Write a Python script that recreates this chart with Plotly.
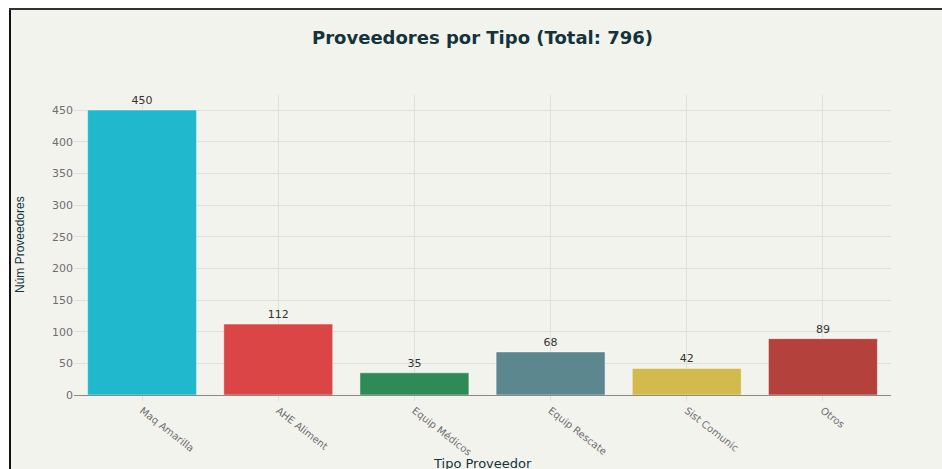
"""Bar chart: proveedores por tipo."""

import plotly.graph_objects as go

BACKGROUND_COLOR = "#F3F3EE"
TITLE_COLOR = "#13343B"
TICK_COLOR = "#6e6e6e"
GRID_COLOR = "#e0e0db"
AXIS_LINE_COLOR = "#8a8a8a"
WIDE_FONT = "DejaVu Sans, sans-serif"

tipos = ["Maq Amarilla", "AHE Aliment", "Equip Médicos", "Equip Rescate", "Sist Comunic", "Otros"]
num_proveedores = [450, 112, 35, 68, 42, 89]
bar_colors = ["#1FB8CD", "#DB4545", "#2E8B57", "#5D878F", "#D2BA4C", "#B4413C"]

total = sum(num_proveedores)

# page margin is removed below, so figure pixels equal window pixels
FIG_W, FIG_H = 942, 469
PLOT_L, PLOT_R, PLOT_T, PLOT_B = 74, 891, 95, 395

fig = go.Figure(
    go.Bar(
        x=tipos,
        y=num_proveedores,
        text=num_proveedores,
        textposition="outside",
        cliponaxis=False,
        textfont={"size": 11, "color": "#333333", "family": WIDE_FONT},
        marker={"color": bar_colors, "line": {"color": "rgba(255,255,255,0.45)", "width": 1}},
    )
)

fig.update_layout(
    width=FIG_W,
    height=FIG_H,
    paper_bgcolor=BACKGROUND_COLOR,
    plot_bgcolor=BACKGROUND_COLOR,
    font={"family": WIDE_FONT, "color": TICK_COLOR},
    title={
        "text": f"Proveedores por Tipo (Total: {total})",
        "x": 0.5,
        "xref": "paper",
        "xanchor": "center",
        "y": 1 - 38 / FIG_H,
        "yanchor": "middle",
        "font": {"size": 18, "color": TITLE_COLOR, "family": WIDE_FONT, "weight": "bold"},
    },
    margin={"l": PLOT_L, "r": FIG_W - PLOT_R, "t": PLOT_T, "b": FIG_H - PLOT_B, "autoexpand": False},
    showlegend=False,
    bargap=0.2,
)

fig.update_xaxes(
    tickangle=38,
    tickfont={"size": 10, "color": TICK_COLOR},
    showgrid=True,
    gridcolor=GRID_COLOR,
    showline=True,
    linecolor=AXIS_LINE_COLOR,
    ticks="outside",
    ticklen=5,
    tickcolor=GRID_COLOR,
    automargin=False,
)
fig.update_yaxes(
    tickfont={"size": 11, "color": TICK_COLOR},
    dtick=50,
    gridcolor=GRID_COLOR,
    zeroline=False,
    showline=False,
    automargin=False,
)


def xp(px):
    return (px - PLOT_L) / (PLOT_R - PLOT_L)


def yp(py):
    return 1 - (py - PLOT_T) / (PLOT_B - PLOT_T)


# axis titles placed as in the screenshot (x title cut by the bottom edge)
fig.add_annotation(text="Tipo Proveedor", xref="paper", yref="paper", x=0.5, y=yp(463),
                   yanchor="middle", showarrow=False,
                   font={"size": 13, "color": TITLE_COLOR, "family": WIDE_FONT})
fig.add_annotation(text="Núm Proveedores", xref="paper", yref="paper", x=xp(20), y=yp(245),
                   xanchor="center", yanchor="middle", textangle=-90, showarrow=False,
                   font={"size": 12, "color": TITLE_COLOR, "family": "Liberation Sans, Arial, sans-serif"})

# white page strips and dark frame lines at the top-left of the screenshot
fig.add_shape(type="rect", xref="paper", yref="paper", x0=xp(0), x1=xp(FIG_W), y0=yp(8), y1=yp(0),
              fillcolor="white", line_width=0, layer="above")
fig.add_shape(type="rect", xref="paper", yref="paper", x0=xp(0), x1=xp(9), y0=yp(FIG_H), y1=yp(0),
              fillcolor="white", line_width=0, layer="above")
fig.add_shape(type="line", xref="paper", yref="paper", x0=xp(10), x1=xp(10), y0=yp(FIG_H), y1=yp(9),
              line={"color": "#111111", "width": 2}, layer="above")
fig.add_shape(type="line", xref="paper", yref="paper", x0=xp(9), x1=xp(FIG_W), y0=yp(9), y1=yp(9),
              line={"color": "#333333", "width": 2}, layer="above")

fig.write_html(
    "out.html",
    config={"displayModeBar": False},
    post_script="document.body.style.margin='0';document.body.style.overflow='hidden';",
)
